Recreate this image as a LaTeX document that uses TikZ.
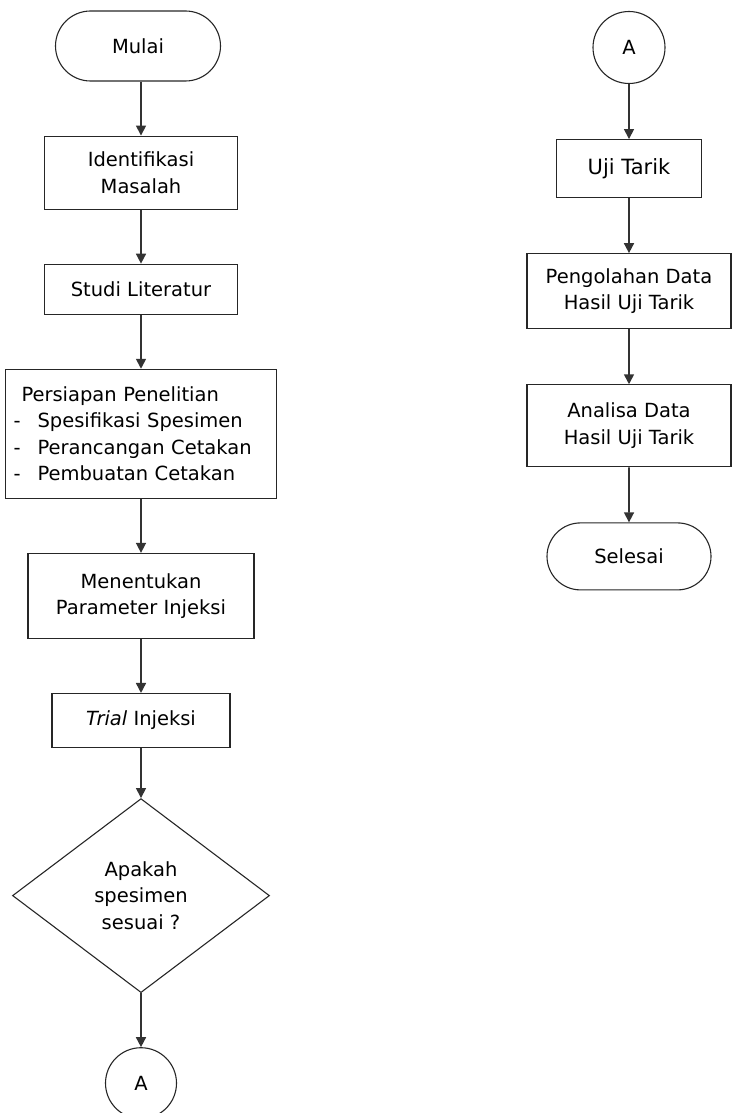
\documentclass[tikz,border=0pt]{standalone}
\usepackage{fontspec}
\setmainfont{DejaVu Sans}
\usetikzlibrary{arrows.meta,positioning,shapes.geometric,shapes.misc}

\begin{document}
\begin{tikzpicture}[
      x=1pt, y=1pt,
      font=\fontsize{19.5}{26.5}\selectfont,
      base/.style={draw=black!85, line width=1.1pt, align=center, inner sep=0pt},
      proc/.style={base, rectangle},
      term/.style={base, rounded rectangle},
      conn/.style={base, circle, minimum size=71pt},
      dec/.style={base, diamond, minimum width=257pt, minimum height=194pt},
      arr/.style={-{Triangle[length=10pt,width=10pt]}, line width=1.6pt, draw=black!80},
      node distance=54pt,
    ]
    \useasboundingbox (0,0) rectangle (736,-1113);

    % Left column (top to bottom)
    \node (mulai) [term, minimum width=165pt, minimum height=70pt] at (138,-46) {Mulai};
    \node (ident) [proc, below=of mulai, xshift=3pt, minimum width=193pt, minimum height=73pt] {Identifikasi\\Masalah};
    \node (studi) [proc, below=of ident, minimum width=193pt, minimum height=50pt] {Studi Literatur};
    \node (siap) [proc, below=of studi, align=left, text width=255pt, inner xsep=8pt, minimum height=129pt]
      {\hspace*{8pt}Persiapan Penelitian\\
       -\hspace{17pt}Spesifikasi Spesimen\\
       -\hspace{17pt}Perancangan Cetakan\\
       -\hspace{17pt}Pembuatan Cetakan};
    \node (param) [proc, below=of siap, minimum width=226pt, minimum height=85pt] {Menentukan\\Parameter Injeksi};
    \node (trial) [proc, below=of param, minimum width=178pt, minimum height=54pt] {{\itshape Trial} Injeksi};
    \node (cek) [dec, below=50pt of trial] {Apakah\\spesimen\\sesuai ?};
    \node (a1) [conn, below=of cek] {A};
    \draw [arr] (mulai.south -| ident.north) -- (ident);
    \draw [arr] (ident) -- (studi);
    \draw [arr] (studi) -- (siap);
    \draw [arr] (siap) -- (param);
    \draw [arr] (param) -- (trial);
    \draw [arr] (trial) -- (cek);
    \draw [arr] (cek) -- (a1);

    % Right column (continued from A)
    \node (a2) [conn, minimum size=72pt] at (629,-47.5) {A};
    \node (uji) [proc, below=55pt of a2, minimum width=145pt, minimum height=58pt,
                 font=\fontsize{21}{27}\selectfont] {Uji Tarik};
    \node (olah) [proc, below=55pt of uji, minimum width=204pt, minimum height=75pt] {Pengolahan Data\\Hasil Uji Tarik};
    \node (analisa) [proc, below=55pt of olah, minimum width=204pt, minimum height=82pt] {Analisa Data\\Hasil Uji Tarik};
    \node (selesai) [term, below=55pt of analisa, minimum width=164pt, minimum height=67pt] {Selesai};
    \draw [arr] (a2) -- (uji);
    \draw [arr] (uji) -- (olah);
    \draw [arr] (olah) -- (analisa);
    \draw [arr] (analisa) -- (selesai);
  \end{tikzpicture}
\end{document}
